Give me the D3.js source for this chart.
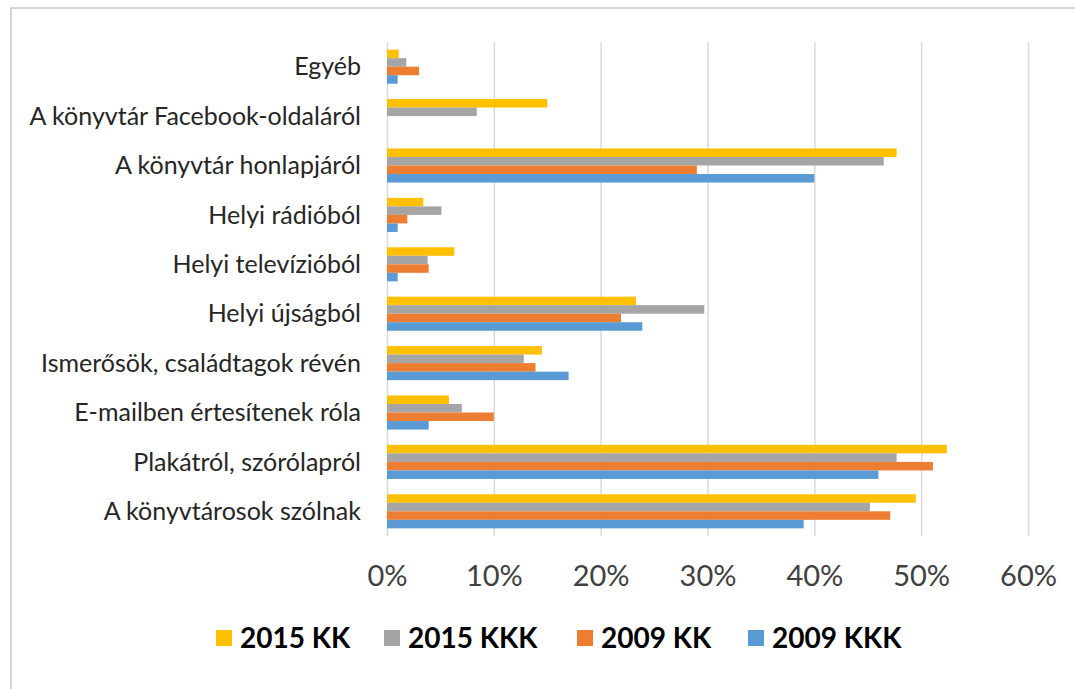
<!DOCTYPE html>
<html>
<head>
<meta charset="utf-8">
<script src="https://cdn.jsdelivr.net/npm/d3@7"></script>
<style>
  body { margin: 0; background: #fff; }
  svg { display: block; }
</style>
</head>
<body>
<div id="chart"></div>
<script>
// adatok ----------------------------------------------------------------
const categories = [
  'Egyéb',
  'A könyvtár Facebook-oldaláról',
  'A könyvtár honlapjáról',
  'Helyi rádióból',
  'Helyi televízióból',
  'Helyi újságból',
  'Ismerősök, családtagok révén',
  'E-mailben értesítenek róla',
  'Plakátról, szórólapról',
  'A könyvtárosok szólnak'
];
const seriesNames = ['2015 KK', '2015 KKK', '2009 KK', '2009 KKK'];
const seriesColors = ['#FFC000', '#A5A5A5', '#ED7D31', '#5B9BD5'];
const kk2015 = [1.1, 15.0, 47.7, 3.4, 6.3, 23.3, 14.5, 5.8, 52.4, 49.5];
const kkk2015 = [1.8, 8.4, 46.5, 5.1, 3.8, 29.7, 12.8, 7.0, 47.7, 45.2];
const kk2009 = [3.0, 0, 29.0, 1.9, 3.9, 21.9, 13.9, 10.0, 51.1, 47.1];
const kkk2009 = [1.0, 0, 40.0, 1.0, 1.0, 23.9, 17.0, 3.9, 46.0, 39.0];
const tickValues = [0, 10, 20, 30, 40, 50, 60];

const values = [kk2015, kkk2015, kk2009, kkk2009];

// méretek --------------------------------------------------------------
const width = 1075, height = 689;
const margin = { top: 42, bottom: 153, left: 387, right: 47 };

const svg = d3.select('#chart').append('svg')
  .attr('width', width)
  .attr('height', height);

// keret
svg.append('rect')
  .attr('x', 11).attr('y', 8)
  .attr('width', width + 20).attr('height', height + 20)
  .attr('fill', '#fff')
  .attr('stroke', '#d4d4d4')
  .attr('stroke-width', 2);

const xScale = d3.scaleLinear()
  .domain([0, 60])
  .range([margin.left, width - margin.right]);

const yScale = d3.scaleBand()
  .domain(categories)
  .range([margin.top, height - margin.bottom])
  .paddingInner(0.31)
  .paddingOuter(0.155);

const ySub = d3.scaleBand()
  .domain(d3.range(seriesNames.length))
  .range([0, yScale.bandwidth()]);

// rácsvonalak
const axisX = d3.axisBottom(xScale)
  .tickValues(tickValues)
  .tickSize(-(height - margin.bottom - margin.top))
  .tickFormat(d => d + '%');
const gX = svg.append('g')
  .attr('transform', 'translate(0,' + (height - margin.bottom) + ')')
  .call(axisX);
gX.select('.domain').remove();
gX.selectAll('line')
  .attr('stroke', '#d9d9d9')
  .attr('stroke-width', 1.5);
gX.selectAll('text')
  .attr('dy', 0)
  .attr('y', 50)
  .attr('fill', '#404040')
  .attr('font-family', 'Lato, sans-serif')
  .attr('font-size', '29px');

// oszlopok
const groups = svg.append('g')
  .selectAll('g')
  .data(categories)
  .join('g')
  .attr('transform', d => 'translate(0,' + yScale(d) + ')');

groups.selectAll('rect')
  .data((d, i) => values.map((v, s) => ({ s: s, v: v[i] })))
  .join('rect')
  .attr('x', xScale(0))
  .attr('y', d => ySub(d.s))
  .attr('width', d => xScale(d.v) - xScale(0))
  .attr('height', ySub.bandwidth())
  .attr('fill', d => seriesColors[d.s]);

// kategória feliratok
svg.append('g')
  .selectAll('text')
  .data(categories)
  .join('text')
  .attr('x', 361)
  .attr('y', d => yScale(d) + yScale.bandwidth() / 2)
  .attr('dy', '0.35em')
  .attr('text-anchor', 'end')
  .attr('fill', '#262626')
  .attr('font-family', 'Lato, sans-serif')
  .attr('font-size', '25px')
  .text(d => d);

// jelmagyarázat
const legendX = [216, 384, 577, 748];
const legend = svg.append('g')
  .selectAll('g')
  .data(seriesNames)
  .join('g')
  .attr('transform', (d, i) => 'translate(' + legendX[i] + ',638)');
legend.append('rect')
  .attr('x', 0).attr('y', -8)
  .attr('width', 16).attr('height', 16)
  .attr('fill', (d, i) => seriesColors[i]);
legend.append('text')
  .attr('x', 24)
  .attr('dy', '0.36em')
  .attr('fill', '#000')
  .attr('font-family', 'Lato, sans-serif')
  .attr('font-weight', 'bold')
  .attr('font-size', '28px')
  .text(d => d);
</script>
</body>
</html>
